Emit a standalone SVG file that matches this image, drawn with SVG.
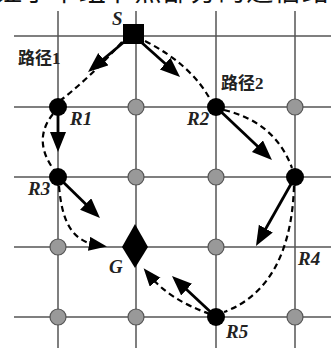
<svg xmlns="http://www.w3.org/2000/svg" width="331" height="348" viewBox="0 0 331 348">
<style>
.grid{stroke:#555;stroke-width:1.5;fill:none}
.blk{fill:#000}
.gry{fill:#999;stroke:#555;stroke-width:1.2}
.arr{stroke:#000;stroke-width:2.8;fill:none;marker-end:url(#ah)}
.dash{stroke:#000;stroke-width:2.2;fill:none;stroke-dasharray:6 4}
.dasharr{stroke:#000;stroke-width:2.2;fill:none;stroke-dasharray:6 4;marker-end:url(#ah2)}
.lbl{font-family:"Liberation Serif","Times New Roman",serif;font-style:italic;font-weight:bold;font-size:19px;fill:#222}
.cjk{font-family:"Liberation Serif","Noto Sans CJK SC",serif;font-size:17px;font-weight:bold;fill:#222}
.top{font-family:"Noto Sans CJK SC",serif;font-size:27px;fill:#111}
</style>
<defs>
<marker id="ah" markerUnits="userSpaceOnUse" markerWidth="22" markerHeight="18" refX="10" refY="8" orient="auto">
<path d="M0,0 L20,8 L0,16 z" fill="#000"/>
</marker>
<marker id="ah2" markerUnits="userSpaceOnUse" markerWidth="20" markerHeight="16" refX="8" refY="7" orient="auto">
<path d="M0,0 L18,7 L0,14 z" fill="#000"/>
</marker>
</defs>
<text class="top" x="-5" y="1" textLength="334" lengthAdjust="spacing">证了单组节点部分的通信路</text>
<g id="grid">
<path class="grid" d="M14,36H331M14,107H331M14,177H331M14,247H331M14,317H331"/>
<path class="grid" d="M58,11V348M136,11V348M216,11V348M295,11V348"/>
</g>
<g id="connectors">
<path class="dash" d="M122,42 Q90,78 56,104"/>
<path class="dash" d="M53,114 Q32,140 54,170"/>
<path class="dasharr" d="M59,186 C62,222 72,241 97,245"/>
<path class="dash" d="M145,41 Q192,65 211,101"/>
<path class="dash" d="M224,110 Q275,122 292,168"/>
<path class="dash" d="M294,186 C292,250 270,295 224,312"/>
<path class="dasharr" d="M210,314 Q170,300 150,276"/>
<path class="arr" d="M124,42 L95.7,65.6"/>
<path class="arr" d="M141,42 L172.6,70.3"/>
<path class="arr" d="M58,107 L58,142"/>
<path class="arr" d="M216,107 L264.7,153.1"/>
<path class="arr" d="M58,177 L92.8,211"/>
<path class="arr" d="M295,177 L260.9,237.3"/>
<path class="arr" d="M216,317 L179.3,282.8"/>
</g>
<g id="grayNodes">
<circle class="gry" cx="136" cy="107" r="8"/>
<circle class="gry" cx="295" cy="107" r="8"/>
<circle class="gry" cx="136" cy="177" r="8"/>
<circle class="gry" cx="216" cy="177" r="8"/>
<circle class="gry" cx="58" cy="247" r="8"/>
<circle class="gry" cx="216" cy="247" r="8"/>
<circle class="gry" cx="58" cy="317" r="8"/>
<circle class="gry" cx="136" cy="317" r="8"/>
<circle class="gry" cx="295" cy="317" r="8"/>
</g>
<g id="S"><rect class="blk" x="123" y="24" width="21" height="20"/><text class="lbl" x="112" y="25">S</text></g>
<g id="R1"><circle class="blk" cx="58" cy="107" r="9"/><text class="lbl" x="70" y="125">R1</text></g>
<g id="R2"><circle class="blk" cx="216" cy="107" r="9"/><text class="lbl" x="187" y="125">R2</text></g>
<g id="R3"><circle class="blk" cx="58" cy="177" r="9"/><text class="lbl" x="28" y="195">R3</text></g>
<g id="R4"><circle class="blk" cx="295" cy="177" r="9"/><text class="lbl" x="298" y="265">R4</text></g>
<g id="R5"><circle class="blk" cx="216" cy="317" r="9"/><text class="lbl" x="226" y="338">R5</text></g>
<g id="G"><path class="blk" d="M135,224 L148,247 L135,268 L122,247 z"/><text class="lbl" x="109" y="273">G</text></g>
<g id="path1label"><text class="cjk" x="18" y="64">路径1</text></g>
<g id="path2label"><text class="cjk" x="221" y="89">路径2</text></g>
</svg>
